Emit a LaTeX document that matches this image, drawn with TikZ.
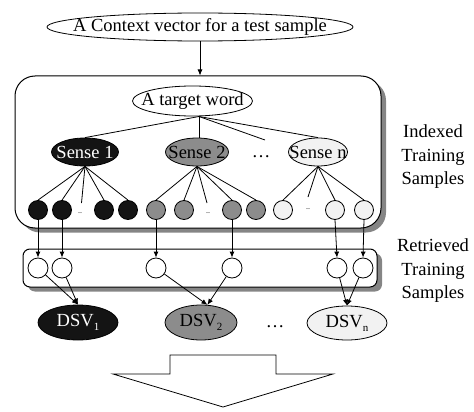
\documentclass[tikz,border=0pt]{standalone}
\usepackage{fontspec}
\setmainfont{Liberation Serif}
\usetikzlibrary{arrows.meta,shadows,shapes.geometric}

\definecolor{darkfill}{HTML}{141414}
\definecolor{midfill}{HTML}{8C8C8C}
\definecolor{lightfill}{HTML}{F2F2F2}
\definecolor{shadowgray}{HTML}{858585}

\begin{document}
\begin{tikzpicture}[x=1pt,y=-1pt,
  font=\fontsize{18.5}{22}\selectfont,
  line width=0.9pt,
  every node/.style={inner sep=0pt},
  % ellipses keep a fixed size; their text is set on top as a separate node
  oval/.style={draw,ellipse,line width=0.8pt},
  ovaltext/.style={inner sep=0pt},
  leaf/.style={draw,circle,minimum size=19pt,line width=0.8pt},
  rleaf/.style={draw,circle,fill=white,minimum size=20pt,line width=0.8pt},
  link/.style={line width=0.8pt},
  tip/.style={line width=0.8pt,-{Latex[length=6pt,width=5pt]}},
  panel/.style={draw,fill=white,line width=1pt,
    drop shadow={shadow xshift=5pt,shadow yshift=-4.5pt,fill=shadowgray,opacity=1}},
  sidelabel/.style={align=center,font=\fontsize{18.5}{23.5}\selectfont},
  tinydots/.style={font=\fontsize{8}{8}\selectfont}
]
\useasboundingbox (0,0) rectangle (474,412);

% query ellipse and the arrow into the index
\node[oval,minimum width=306pt,minimum height=28pt] (query) at (200,27) {};
\node[ovaltext] (querytext) at (query.center) {A Context vector for a test sample};

% index panel
\node[panel,rounded corners=20pt,minimum width=366pt,minimum height=152pt] (ibox) at (198,152) {};
\draw[tip] (query.south) -- (query.south |- ibox.north);

% target word and its senses
\node[oval,minimum width=120pt,minimum height=30pt] (tw) at (192.5,101) {};
\node[ovaltext] (twtext) at (tw.center) {A target word};
\coordinate (hub) at (199,116.5);

\node[oval,fill=darkfill,minimum width=67pt,minimum height=28pt] (s1) at (85,152) {};
\node[ovaltext,text=white] (s1text) at (s1.center) {Sense 1};
\node[oval,fill=midfill,minimum width=63pt,minimum height=28pt] (s2) at (197,152) {};
\node[ovaltext] (s2text) at (s2.center) {Sense 2};
\node[oval,fill=lightfill,minimum width=59pt,minimum height=28pt] (sn) at (318,152) {};
\node[ovaltext] (sntext) at (sn.center) {Sense n};
\node (sdots) at (261,157) {\dots};
\coordinate (sdl) at (265,140);

\draw[link] (hub) -- (s1.north);
\draw[link] (hub) -- (hub |- s2.north);
\draw[link] (hub) -- (sdl);
\draw[link] (hub) -- (sn.north);

% indexed training samples
\foreach \n/\x in {a1/38,a2/62,a3/104,a4/128}
  \node[leaf,fill=darkfill] (\n) at (\x,210) {};
\foreach \n/\x in {b1/156,b2/184,b3/232,b4/256}
  \node[leaf,fill=midfill] (\n) at (\x,210) {};
\foreach \n/\x in {c1/283,c2/335,c3/364}
  \node[leaf,fill=lightfill] (\n) at (\x,210) {};

\node[tinydots] (ad) at (80,213) {..};
\node[tinydots] (bd) at (208,213) {..};
\node[tinydots] (cd) at (308,209) {..};
\coordinate (adl) at (81.5,203);
\coordinate (bdl) at (207,203);
\coordinate (cdl) at (308,197);

\foreach \n in {a1,a2,a3,a4} \draw[link] (s1.south) -- (\n.north);
\draw[link] (s1.south) -- (adl);
\foreach \n in {b1,b2,b3,b4} \draw[link] (s2.south) -- (\n.north);
\draw[link] (s2.south) -- (bdl);
\foreach \n in {c1,c2,c3} \draw[link] (sn.south) -- (\n.north);
\draw[link] (sn.south) -- (cdl);

% retrieved panel
\node[panel,rounded corners=7pt,minimum width=354pt,minimum height=38pt] (rbox) at (200,268) {};
\foreach \n/\x in {r1/38,r2/62,r3/156,r4/232,r5/337,r6/363}
  \node[rleaf] (\n) at (\x,268) {};

\draw[tip] (a1.south) -- (r1.north);
\draw[tip] (a2.south) -- (r2.north);
\draw[tip] (b1.south) -- (r3.north);
\draw[tip] (b3.south) -- (r4.north);
\draw[tip] (c2.south) -- (r5.north);
\draw[tip] (c3.south) -- (r6.north);

% sense vectors
\newcommand{\dsvsub}[1]{DSV\raisebox{-0.5ex}{\fontsize{11}{11}\selectfont #1}}
\node[oval,fill=darkfill,minimum width=80pt,minimum height=35pt] (d1) at (78,322.5) {};
\node[ovaltext,text=white] (d1text) at (d1.center) {\dsvsub{1}};
\node[oval,fill=midfill,minimum width=72pt,minimum height=35pt] (d2) at (201,322.5) {};
\node[ovaltext] (d2text) at (d2.center) {\dsvsub{2}};
\node[oval,fill=lightfill,minimum width=80pt,minimum height=34pt] (dn) at (347,323) {};
\node[ovaltext] (dntext) at (dn.center) {\dsvsub{n}};
\node (ddots) at (275,327) {\dots};

\draw[tip] (r1) -- (d1.north);
\draw[tip] (r2) -- (d1.north);
\draw[tip] (r3) -- (d2.70);
\draw[tip] (r4) -- (d2.70);
\draw[tip] (r5) -- (dn.north);
\draw[tip] (r6) -- (dn.north);

% side labels
\node[sidelabel] (ilab) at (433,157) {Indexed\\Training\\Samples};
\node[sidelabel] (rlab) at (433,271) {Retrieved\\Training\\Samples};

% block arrow at the bottom
\draw[line width=0.8pt,fill=white]
  (170,374) -- (170,355) -- (276,355) -- (276,374) -- (333,374)
  -- (223,407) -- (113,374) -- cycle;
\end{tikzpicture}
\end{document}
